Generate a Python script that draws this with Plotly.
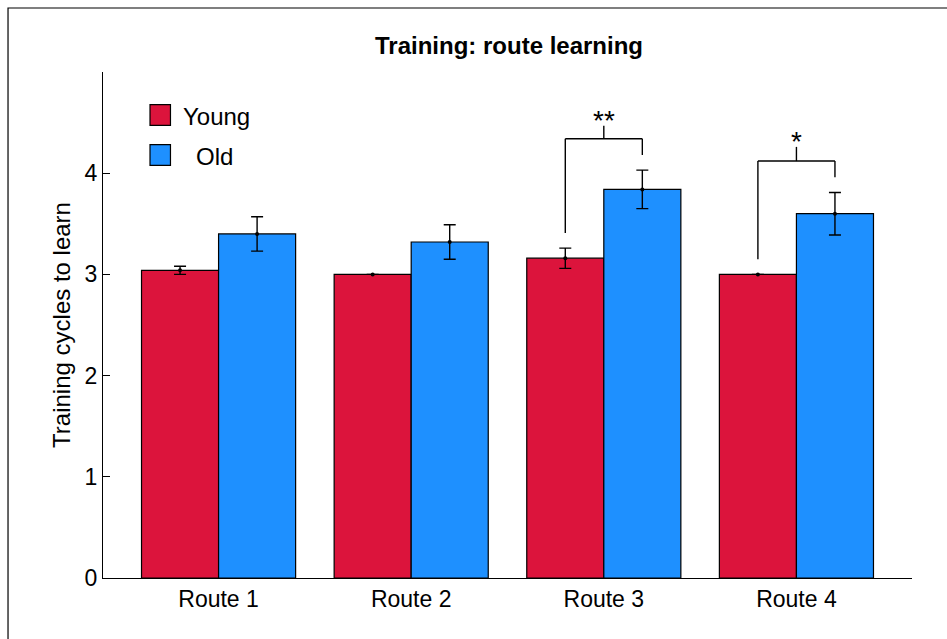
import plotly.graph_objects as go

# Data
routes = ["Route 1", "Route 2", "Route 3", "Route 4"]
young_mean = [3.04, 3.00, 3.16, 3.00]
young_err = [0.04, 0.0, 0.10, 0.0]
old_mean = [3.40, 3.32, 3.84, 3.60]
old_err = [0.17, 0.17, 0.19, 0.21]
y_ticks = [0, 1, 2, 3, 4]

# Significance brackets: (route index, label, bracket height, left foot, right foot, top tick)
sig_brackets = [
    (2, "**", 4.34, 3.41, 4.18, 4.47),
    (3, "*", 4.12, 3.15, 3.96, 4.26),
]

YOUNG_COLOR = "#DC143C"
OLD_COLOR = "#1E90FF"
FONT = "Liberation Sans, Arial, sans-serif"

xs = list(range(len(routes)))
half = 0.2  # bar centre offset from the category centre

fig = go.Figure()
for name, means, errs, color in [
    ("Young", young_mean, young_err, YOUNG_COLOR),
    ("Old", old_mean, old_err, OLD_COLOR),
]:
    fig.add_trace(go.Bar(
        x=xs, y=means, name=name,
        marker=dict(color=color, line=dict(color="black", width=1.2)),
        error_y=dict(type="data", array=errs, visible=True,
                     color="black", thickness=1.4, width=6),
        showlegend=False,
    ))

# mean dots on top of the error bars
for means, off in [(young_mean, -half), (old_mean, half)]:
    fig.add_trace(go.Scatter(
        x=[x + off for x in xs], y=means, mode="markers",
        marker=dict(color="black", size=4), showlegend=False, hoverinfo="skip",
    ))

line = dict(color="black", width=1.4)
for idx, label, top, lfoot, rfoot, tick in sig_brackets:
    xl, xr, xc = idx - half, idx + half, idx
    fig.add_shape(type="line", x0=xl, x1=xl, y0=lfoot, y1=top, line=line)
    fig.add_shape(type="line", x0=xl, x1=xr, y0=top, y1=top, line=line)
    fig.add_shape(type="line", x0=xr, x1=xr, y0=top, y1=rfoot, line=line)
    fig.add_shape(type="line", x0=xc, x1=xc, y0=top, y1=tick, line=line)
    fig.add_annotation(x=xc, y=tick, text=label, showarrow=False,
                       yanchor="bottom", yshift=-12,
                       font=dict(family=FONT, size=28, color="black"))

# legend drawn as boxes with labels
legend_items = [(YOUNG_COLOR, 0.915, "Young", 0.0968), (OLD_COLOR, 0.836, "Old", 0.1128)]
for color, yc, text, tx in legend_items:
    fig.add_shape(type="rect", xref="paper", yref="paper",
                  x0=0.0581, x1=0.0834, y0=yc - 0.0205, y1=yc + 0.0205,
                  fillcolor=color, line=dict(color="black", width=1.2))
    fig.add_annotation(xref="paper", yref="paper", x=tx, y=yc - 0.003, text=text,
                       showarrow=False, xanchor="left", yanchor="middle",
                       font=dict(family=FONT, size=24, color="black"))

# outer frame
fig.add_shape(type="rect", xref="paper", yref="paper",
              x0=-0.1174, x1=1.1, y0=-0.2, y1=1.1265,
              line=dict(color="black", width=1.2))

fig.update_layout(
    width=947, height=639,
    margin=dict(l=103, r=35, t=72, b=61),
    paper_bgcolor="white", plot_bgcolor="white",
    barmode="group", bargap=0.2, bargroupgap=0,
    font=dict(family=FONT, size=23, color="black"),
    title=dict(text="<b>Training: route learning</b>", x=0.5375, xanchor="center",
               y=0.929, yanchor="middle", font=dict(family=FONT, size=24, color="black")),
)
fig.update_xaxes(
    range=[-0.6, 3.6], tickvals=xs, ticktext=routes, showgrid=False, zeroline=False,
    showline=True, linecolor="black", linewidth=1.2, ticks="",
    tickfont=dict(family=FONT, size=23),
)
fig.update_yaxes(
    range=[0, 5], tickvals=y_ticks, showgrid=False, zeroline=False,
    showline=True, linecolor="black", linewidth=1.2, ticks="inside", ticklen=7,
    tickcolor="black", tickfont=dict(family=FONT, size=23),
    title=dict(text="Training cycles to learn", font=dict(family=FONT, size=24), standoff=7),
)

fig.write_html("out.html")
